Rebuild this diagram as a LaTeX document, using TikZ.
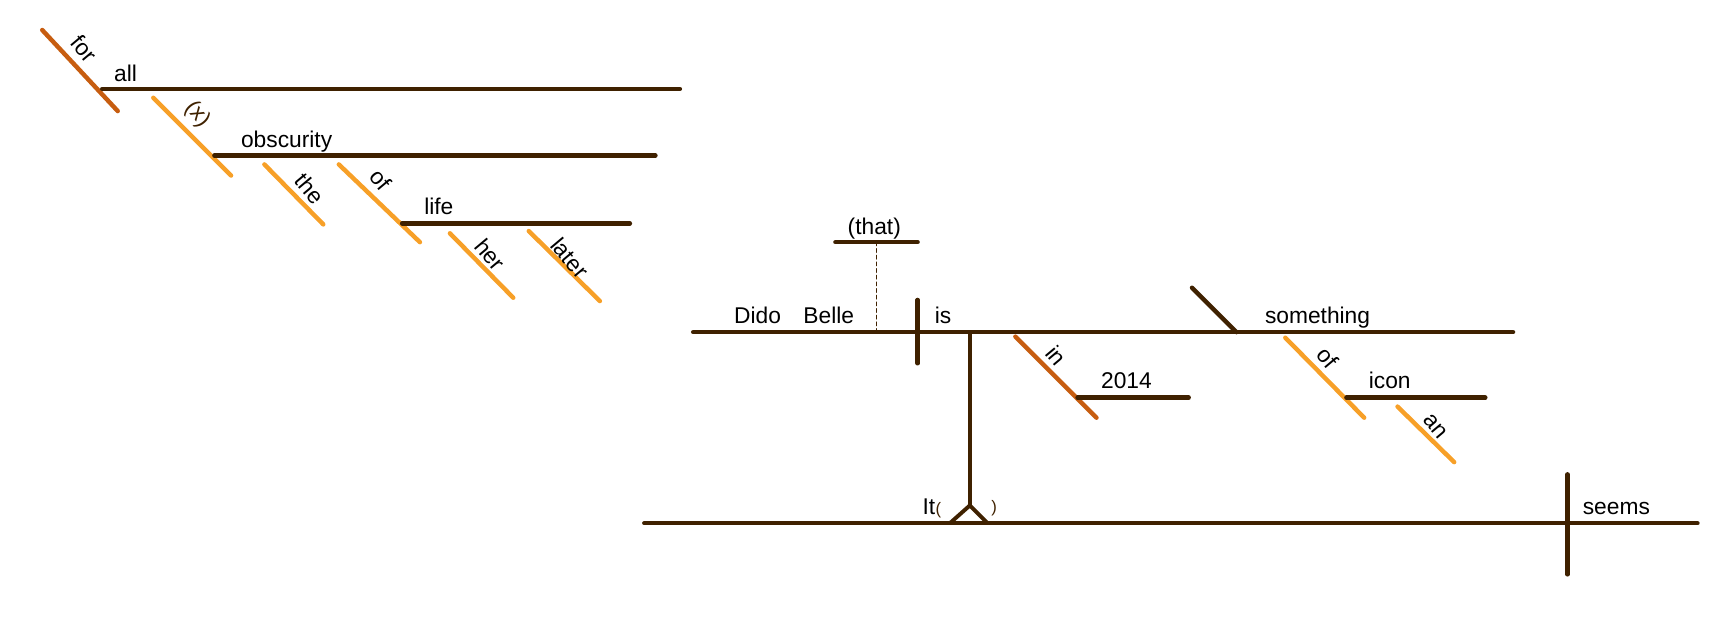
\documentclass[tikz,border=0pt]{standalone}
\usepackage{fontspec}
\setmainfont{Liberation Sans}
\definecolor{brn}{HTML}{3F2100}
\definecolor{org}{HTML}{F7A028}
\definecolor{dorg}{HTML}{C75D10}
\begin{document}
\begin{tikzpicture}[x=1pt,y=-1pt,line cap=round,
  base/.style={draw=brn,line width=4pt},
  mod/.style={draw=org,line width=4pt},
  prep/.style={draw=dorg,line width=4pt},
  wd/.style={font=\fontsize{20.5}{20.5}\selectfont,inner sep=0pt,anchor=base},
  sl/.style={font=\fontsize{20.5}{20.5}\selectfont,inner sep=0pt,rotate=-50}]
\useasboundingbox (0,0) rectangle (1560,574);
% left fragment
\draw[prep] (38,27) coordinate (f1) -- (106,100) coordinate (f2);
\node[sl] (tfor) at (76,44) {for};
\draw[base] (92,80) coordinate (a1) -- (612,80) coordinate (a2);
\node[wd] (tall) at (113,73) {all};
\draw[mod] (138,88) coordinate (x1) -- (208,158) coordinate (x2);
\node[sl,text=brn] (tx) at (178,103) {(x)};
\draw[base] (193,140) coordinate (o1) -- (590,140) coordinate (o2);
\node[wd] (tobs) at (258,133) {obscurity};
\draw[mod] (238,148) coordinate (th1) -- (291,202) coordinate (th2);
\node[sl] (tthe) at (279,170) {the};
\draw[mod] (305,148) coordinate (of1) -- (378,218) coordinate (of2);
\node[sl] (tof) at (343,162) {of};
\draw[base] (362,201) coordinate (l1) -- (567,201) coordinate (l2);
\node[wd] (tlife) at (395,193) {life};
\draw[mod] (405,210) coordinate (h1) -- (462,268) coordinate (h2);
\node[sl] (ther) at (441,229) {her};
\draw[mod] (476,208) coordinate (la1) -- (540,271) coordinate (la2);
\node[sl] (tlater) at (513,232) {later};
% main clause
\draw[base] (752,218) coordinate (t1) -- (826,218) coordinate (t2);
\node[wd] (tthat) at (787,211) {(that)};
\draw[brn,line width=1.5pt,dashed] (789,218) coordinate (d1) -- (789,298) coordinate (d2);
\draw[base] (624,299) coordinate (m1) -- (1362,299) coordinate (m2);
\node[wd] (tdido) at (682,291) {Dido};
\node[wd] (tbelle) at (746,291) {Belle};
\draw[base] (826,270) coordinate (v1) -- (826,327) coordinate (v2);
\node[wd] (tis) at (849,291) {is};
\draw[brn,line width=3.5pt] (873,299) coordinate (s1) -- (873,455) coordinate (s2);
\draw[brn,line width=3.5pt,line cap=butt] (855,471) -- (s2) -- (889,471);
\draw[base] (580,471) coordinate (b1) -- (1528,471) coordinate (b2);
\node[wd,anchor=base east] (tit) at (842,463) {It};
\node[inner sep=0pt,anchor=base west,font=\fontsize{15}{15}\selectfont,text=brn] (lp) at (tit.base east) {(};
\node[inner sep=0pt,anchor=base,font=\fontsize{15}{15}\selectfont,text=brn] (rp) at (895,461) {)};
\draw[base] (1411,427) coordinate (se1) -- (1411,517) coordinate (se2);
\node[wd] (tseems) at (1455,463) {seems};
\draw[prep] (914,303) coordinate (i1) -- (987,376) coordinate (i2);
\node[sl] (tin) at (951,320) {in};
\draw[base] (970,358) coordinate (y1) -- (1070,358) coordinate (y2);
\node[wd] (t2014) at (1014,350) {2014};
\draw[base] (1073,259) coordinate (k1) -- (1113,299) coordinate (k2);
\node[wd] (tsome) at (1186,291) {something};
\draw[mod] (1157,304) coordinate (g1) -- (1228,376) coordinate (g2);
\node[sl] (tof2) at (1195,322) {of};
\draw[base] (1212,358) coordinate (c1) -- (1337,358) coordinate (c2);
\node[wd] (ticon) at (1251,350) {icon};
\draw[mod] (1258,366) coordinate (n1) -- (1309,416) coordinate (n2);
\node[sl] (tan) at (1292,384) {an};
\end{tikzpicture}
\end{document}
